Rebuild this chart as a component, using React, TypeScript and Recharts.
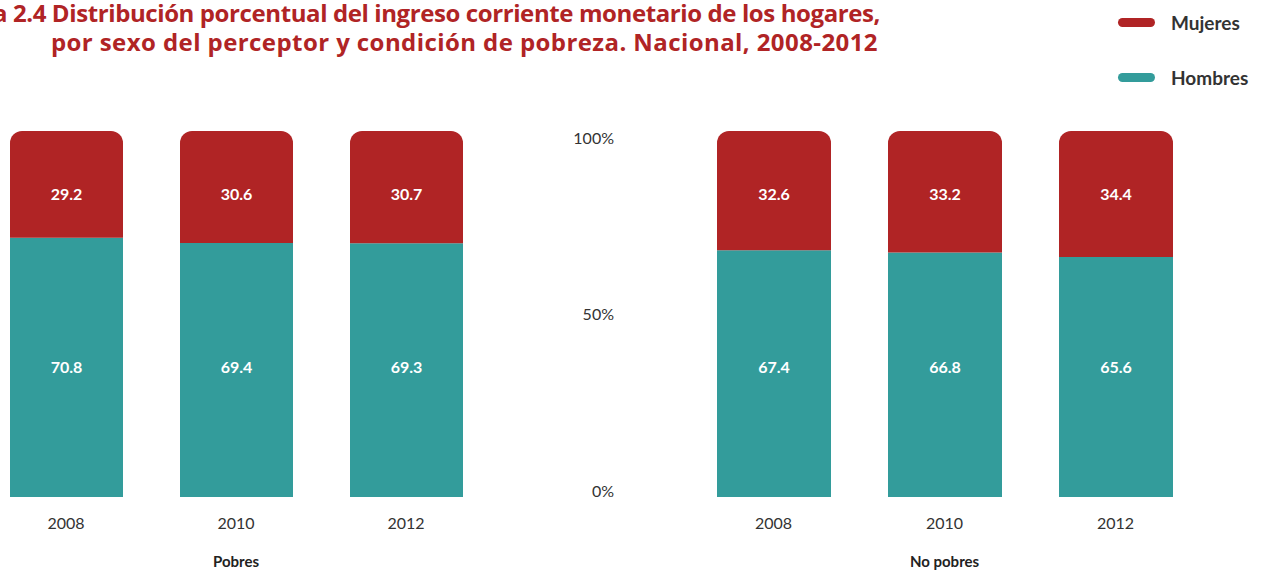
import React from 'react';
import { BarChart, Bar, XAxis, YAxis, LabelList, Legend } from 'recharts';

const years = ['2008', '2010', '2012'];
const pobresHombres = [70.8, 69.4, 69.3];
const pobresMujeres = [29.2, 30.6, 30.7];
const noPobresHombres = [67.4, 66.8, 65.6];
const noPobresMujeres = [32.6, 33.2, 34.4];
const yTicks = [0, 50, 100];
const panelNames = ['Pobres', 'No pobres'];
const titleLines = [
  'Gráfica 2.4 Distribución porcentual del ingreso corriente monetario de los hogares,',
  'por sexo del perceptor y condición de pobreza. Nacional, 2008-2012',
];

const RED = '#b02425';
const TEAL = '#339c9b';
const FONT = 'Lato, "Open Sans", sans-serif';
const TITLE_FONT = '"Open Sans", Lato, sans-serif';

const pobresData = years.map((y, i) => ({ year: y, hombres: pobresHombres[i], mujeres: pobresMujeres[i] }));
const noPobresData = years.map((y, i) => ({ year: y, hombres: noPobresHombres[i], mujeres: noPobresMujeres[i] }));

const MujLabel = (p: any) => (
  <text x={p.x + p.width / 2} y={p.y + 62} fill="#fff" fontSize={16} fontWeight={700}
    textAnchor="middle" dominantBaseline="central" fontFamily={FONT}>
    {Number(p.value).toFixed(1)}
  </text>
);
const HomLabel = (p: any) => (
  <text x={p.x + p.width / 2} y={p.y + p.height - 131} fill="#fff" fontSize={16} fontWeight={700}
    textAnchor="middle" dominantBaseline="central" fontFamily={FONT}>
    {Number(p.value).toFixed(1)}
  </text>
);

const LegendContent = (props: any) => {
  const items = [...(props.payload || [])].reverse();
  return (
    <div style={{ fontFamily: FONT }}>
      {items.map((it: any, i: number) => (
        <div key={i} style={{ display: 'flex', alignItems: 'center', height: 28, marginBottom: i === 0 ? 27 : 0 }}>
          <div style={{ width: 37, height: 9, borderRadius: 5, background: it.color, marginRight: 16 }} />
          <span style={{ fontSize: 19, fontWeight: 700, color: '#333' }}>{it.value}</span>
        </div>
      ))}
    </div>
  );
};

function Panel({ data, name, barSize, withAxis }: any) {
  return (
    <BarChart
      width={withAxis ? 661 : 510}
      height={575}
      data={data}
      margin={{ top: 131, right: 0, bottom: 0, left: 0 }}
      barSize={barSize}
    >
      <XAxis
        dataKey="year"
        axisLine={false}
        tickLine={false}
        tickMargin={15}
        height={78}
        tick={{ fill: '#333', fontSize: 16, fontFamily: FONT }}
        label={{ value: name, position: 'insideBottom', offset: 8, fill: '#222', fontSize: 15, fontWeight: 700, fontFamily: FONT }}
      />
      <YAxis yAxisId="v" hide domain={[0, 100]} />
      {withAxis && (
        <YAxis
          yAxisId="lbl"
          width={148}
          domain={[-1.7, 101.98]}
          allowDataOverflow
          ticks={yTicks}
          tickFormatter={(v: number) => `${v}%`}
          axisLine={false}
          tickLine={false}
          tickSize={0}
          tickMargin={74}
          tick={{ fill: '#333', fontSize: 16, fontFamily: FONT }}
        />
      )}
      <Bar yAxisId="v" dataKey="hombres" name="Hombres" stackId="a" fill={TEAL} isAnimationActive={false}>
        <LabelList dataKey="hombres" content={HomLabel} />
      </Bar>
      <Bar yAxisId="v" dataKey="mujeres" name="Mujeres" stackId="a" fill={RED} radius={[12, 12, 0, 0]} isAnimationActive={false}>
        <LabelList dataKey="mujeres" content={MujLabel} />
      </Bar>
      {withAxis && (
        <Legend
          layout="vertical"
          align="center"
          verticalAlign="middle"
          content={LegendContent}
          wrapperStyle={{ top: 8, left: 578, width: 140, height: 90 }}
        />
      )}
    </BarChart>
  );
}

const titleStyle: React.CSSProperties = {
  position: 'absolute', textAlign: 'right', color: RED, fontWeight: 700, fontSize: 24,
  lineHeight: '24px', whiteSpace: 'nowrap', fontFamily: TITLE_FONT,
};

export default function App() {
  return (
    <div style={{ position: 'absolute', left: 0, top: 0, width: 1261, height: 575, overflow: 'hidden', background: '#fff', fontFamily: FONT }}>
      <div style={{ ...titleStyle, right: 1261 - 880, top: 1, letterSpacing: -0.4 }}>{titleLines[0]}</div>
      <div style={{ ...titleStyle, right: 1261 - 878, top: 30, letterSpacing: 0.42 }}>{titleLines[1]}</div>
      <div style={{ position: 'absolute', left: -19, top: 0 }}>
        <Panel data={pobresData} name={panelNames[0]} barSize={113} withAxis={false} />
      </div>
      <div style={{ position: 'absolute', left: 540, top: 0 }}>
        <Panel data={noPobresData} name={panelNames[1]} barSize={114} withAxis={true} />
      </div>
    </div>
  );
}
